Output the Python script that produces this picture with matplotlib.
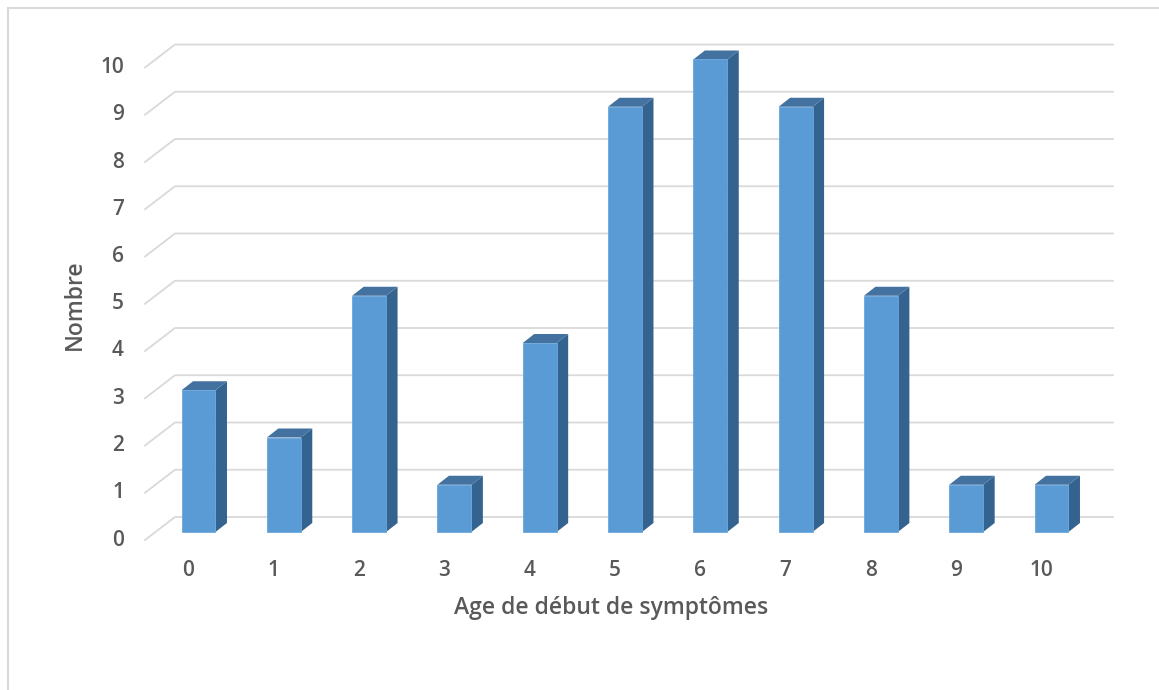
import matplotlib
matplotlib.use('Agg')
import matplotlib.pyplot as plt
from matplotlib.patches import Polygon, Rectangle

# Data
ages = [0, 1, 2, 3, 4, 5, 6, 7, 8, 9, 10]
counts = [3, 2, 5, 1, 4, 9, 10, 9, 5, 1, 1]
y_ticks = list(range(0, 11))
x_title = "Age de début de symptômes"
y_title = "Nombre"

plt.rcParams['font.family'] = ['Open Sans', 'DejaVu Sans']
text_color = '#595959'
grid_color = '#D9D9D9'
front_color = '#5B9BD5'
top_color = '#4372A0'
side_color = '#35638F'

W, H = 1159, 690
fig = plt.figure(figsize=(W / 100, H / 100), dpi=100)
ax = fig.add_axes([0, 0, 1, 1])
ax.set_axis_off()

# one category = 85.3 px, one count = 47.25 px; origin at front bottom of first bar
px_x, px_y = 85.3, 47.25
x0, y0 = 198.5, 532
ax.set_xlim((0 - x0) / px_x, (W - x0) / px_x)
ax.set_ylim((y0 - H) / px_y, y0 / px_y)

# pseudo-3D geometry (in data units)
half_w = 0.199
bar_dx, bar_dy = 11.5 / px_x, 9 / px_y
front_y = -8 / px_y        # floor front edge
back_y = 15 / px_y         # back wall
left_front_x = (145 - x0) / px_x
left_back_x = (175 - x0) / px_x
right_back_x = (1113 - x0) / px_x

# gridlines: diagonal on the side wall + horizontal on the back wall
for v in y_ticks:
    ax.plot([left_front_x, left_back_x, right_back_x],
            [v + front_y, v + back_y, v + back_y],
            color=grid_color, lw=1.3, solid_joinstyle='miter', zorder=1)
    ax.text((124 - x0) / px_x, v + front_y, str(v), ha='right', va='center',
            fontsize=15, fontweight='semibold', color=text_color)

# bars
for i, v in zip(ages, counts):
    l, r = i - half_w, i + half_w
    ax.add_patch(Polygon([(r, 0), (r + bar_dx, bar_dy), (r + bar_dx, v + bar_dy), (r, v)],
                         closed=True, facecolor=side_color, edgecolor='none', zorder=3))
    ax.add_patch(Polygon([(l, v), (r, v), (r + bar_dx, v + bar_dy), (l + bar_dx, v + bar_dy)],
                         closed=True, facecolor=top_color, edgecolor='none', zorder=3))
    ax.add_patch(Rectangle((l, 0), 2 * half_w, v, facecolor=front_color,
                           edgecolor='#6AA6DC', lw=0.6, zorder=4))
    ax.text(i - 10 / px_x, (y0 - 570) / px_y, str(i), ha='center', va='center',
            fontsize=15, fontweight='semibold', color=text_color)

# axis titles
fig.text(611 / W, 1 - 608 / H, x_title, ha='center', va='center',
         fontsize=16.5, fontweight='semibold', color=text_color)
fig.text(75 / W, 1 - 305 / H, y_title, ha='center', va='center', rotation=90,
         fontsize=16.5, fontweight='semibold', color=text_color)

# chart border (left and top visible)
fig.add_artist(Rectangle((7.5 / W, -0.05), 1.2, 1 - 7.5 / H + 0.05, transform=fig.transFigure,
                         fill=False, edgecolor=grid_color, lw=1.5))

fig.savefig('out.png', dpi=100)
